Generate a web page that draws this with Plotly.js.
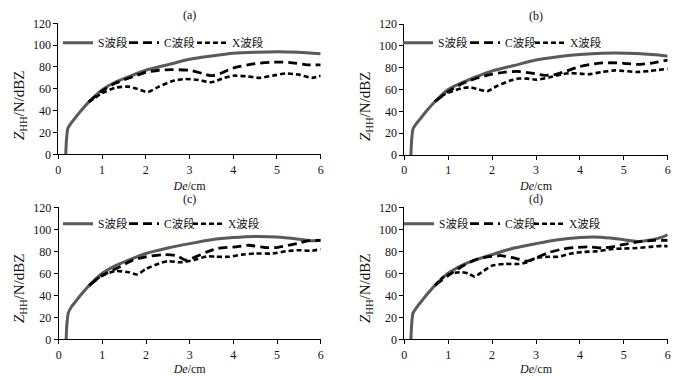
<!DOCTYPE html>
<html>
<head>
<meta charset="utf-8">
<script src="https://cdn.plot.ly/plotly-3.0.1.min.js"></script>
<style>html,body{margin:0;padding:0;background:#fff;}#chart{width:680px;height:376px;}</style>
</head>
<body>
<div id="chart"></div>
<script>
// ---- data ----
const seriesNames = ["S波段", "C波段", "X波段"];
const panelTitles = ["(a)", "(b)", "(c)", "(d)"];
const xTitle = "<i>De</i>/cm";
const yTitle = "<i>Z</i><sub>HH</sub>/N/dBZ";
const xTickVals = [0, 1, 2, 3, 4, 5, 6];
const yTickVals = [0, 20, 40, 60, 80, 100, 120];

// panel (a)
const xa_S = [0.17,0.19,0.22,0.3,0.4,0.5,0.7,1.0,1.3,1.6,2.0,2.5,3.0,3.5,4.0,4.5,5.0,5.5,6.0];
const ya_S = [0,15,24,29,34,39,48,59,66,71,77,82,87,90,92.5,93.5,94,93.5,92];
const xa_C = [0.7,1.0,1.3,1.7,2.0,2.3,2.6,3.0,3.3,3.5,3.7,4.0,4.5,5.0,5.3,5.7,6.0];
const ya_C = [48,58,65,71,75,77,77.5,77,74,72,74,79,83,84.5,84,82,82];
const xa_X = [0.7,0.85,1.0,1.3,1.6,1.8,2.05,2.3,2.6,2.9,3.2,3.5,3.8,4.0,4.3,4.6,4.9,5.2,5.5,5.8,6.0];
const ya_X = [48,52,56,61,62,60,57,62,67,69,68,66,70,72,71.5,70,72,74,73,70,72];

// panel (b)
const xb_S = [0.15,0.17,0.2,0.3,0.4,0.5,0.7,1.0,1.3,1.6,2.0,2.5,3.0,3.5,4.0,4.5,4.8,5.3,5.8,6.0];
const yb_S = [0,15,24,30,35,40,49,60,66,71,77,82,87,90,92,93.3,93.5,93,91.5,90.5];
const xb_C = [0.7,1.0,1.3,1.7,2.0,2.3,2.6,2.9,3.2,3.4,3.7,4.0,4.4,4.7,5.0,5.3,5.6,6.0];
const yb_C = [49,58,65,71,74,76,76.5,75,73,73.5,77,81,84,84.5,84,83,84,87];
const xb_X = [0.7,0.85,1.0,1.3,1.5,1.7,1.9,2.1,2.4,2.6,2.8,3.0,3.3,3.6,3.8,4.0,4.2,4.5,4.8,5.0,5.3,5.6,6.0];
const yb_X = [49,54,57,61,62,60,58.5,63,68,70,70,69,71,74,75,74.5,74,76,77.5,77,76,77,79];

// panel (c)
const xc_S = [0.17,0.19,0.22,0.3,0.4,0.5,0.7,1.0,1.3,1.6,2.0,2.5,3.0,3.5,4.0,4.5,5.0,5.5,5.8,6.0];
const yc_S = [0,15,24,30,35,40,49,60,67,72,78,83,87,90.5,92.5,93.5,93,91,89.5,90];
const xc_C = [0.7,1.0,1.4,1.7,2.0,2.4,2.7,2.9,3.05,3.4,3.65,4.1,4.35,4.77,5.02,5.48,5.7,6.0];
const yc_C = [49,58,66,72,75,77,76,72,73.6,79.5,82.7,84.2,85.5,83.3,83.6,87.3,89.5,90];
const xc_X = [0.7,0.85,1.0,1.3,1.6,1.8,2.0,2.3,2.5,2.8,3.1,3.4,3.6,3.9,4.2,4.5,4.9,5.2,5.5,5.8,6.0];
const yc_X = [49,54,58,62,61,59,64,69,71,70,72,75.5,75,75,77,78,78,80,81,80.5,82];

// panel (d)
const xd_S = [0.15,0.17,0.2,0.3,0.4,0.5,0.7,1.0,1.3,1.6,2.0,2.5,3.0,3.5,4.0,4.3,4.7,5.0,5.3,5.5,5.8,6.0];
const yd_S = [0,15,24,30,35,40,49,60,67,72,77,83,87,90.5,92.5,93,92,90.5,89,89.5,92,95];
const xd_C = [0.7,1.0,1.3,1.6,1.9,2.2,2.5,2.8,3.0,3.3,3.6,3.9,4.2,4.5,4.8,5.1,5.4,5.7,6.0];
const yd_C = [49,58,66,72,75,76,74,71,74,79,82,83.5,84,83,84.5,87,89,90,90];
const xd_X = [0.7,0.9,1.1,1.3,1.45,1.6,1.8,2.0,2.3,2.6,2.8,3.0,3.3,3.5,3.8,4.1,4.4,4.7,5.0,5.3,5.6,5.9,6.0];
const yd_X = [49,57,60,61,60,57,62,67,68.5,68.5,70,74,75,75,78,79.5,80,82,82.5,83,84,85,84.5];

// ---- build ----
const panels = [
  {S:[xa_S,ya_S], C:[xa_C,ya_C], X:[xa_X,ya_X]},
  {S:[xb_S,yb_S], C:[xb_C,yb_C], X:[xb_X,yb_X]},
  {S:[xc_S,yc_S], C:[xc_C,yc_C], X:[xc_X,yc_X]},
  {S:[xd_S,yd_S], C:[xd_C,yd_C], X:[xd_X,yd_X]}
];
const W = 680, H = 376;
// pixel boxes [x0, x1, yTop, yBottom]
const boxes = [
  [58.3, 320.7, 23.3, 154.3],
  [404.3, 667.7, 24, 155],
  [58.7, 320.7, 207.3, 339.3],
  [404.3, 667.7, 207.3, 339.3]
];
// legend line start (px) for S, C, X in each panel, and legend row centre y (px)
const legendX = [[63, 129, 197], [403, 470, 535], [63, 129, 193], [404, 470, 534]];
const legendY = [42.7, 42.7, 223.7, 223.7];
// y-title centre (px)
const yTitlePos = [[20, 106], [366, 107], [20, 289], [366, 289]];
const styles = {
  S: {color: '#5a5a5a', width: 3, dash: 'solid'},
  C: {color: '#000000', width: 2.8, dash: '9px,5px'},
  X: {color: '#000000', width: 2.6, dash: '5px,3px'}
};
const serif = '"Liberation Serif", "Times New Roman", "Noto Sans CJK SC", serif';
const legFont = '"Liberation Serif", "Noto Sans CJK SC", serif';

const traces = [];
const layout = {
  width: W, height: H,
  margin: {l: 0, r: 0, t: 0, b: 0},
  paper_bgcolor: '#ffffff', plot_bgcolor: '#ffffff',
  font: {family: serif, size: 12, color: '#111'},
  showlegend: true,
  annotations: []
};
let legCount = 0;
panels.forEach((p, i) => {
  const n = i === 0 ? '' : String(i + 1);
  ['S', 'C', 'X'].forEach((k, j) => {
    legCount += 1;
    const legName = legCount === 1 ? 'legend' : 'legend' + legCount;
    traces.push({
      x: p[k][0], y: p[k][1],
      type: 'scatter', mode: 'lines',
      name: seriesNames[j],
      xaxis: 'x' + n, yaxis: 'y' + n,
      legend: legName, showlegend: true,
      line: {color: styles[k].color, width: styles[k].width, dash: styles[k].dash, shape: 'spline', smoothing: 0.6},
      hoverinfo: 'skip'
    });
    layout[legName] = {
      visible: true,
      orientation: 'h', x: (legendX[i][j] - 5) / W, y: 1 - legendY[i] / H,
      xanchor: 'left', yanchor: 'middle',
      bgcolor: 'rgba(0,0,0,0)', borderwidth: 0,
      font: {family: legFont, size: 11.5, color: '#111'},
      itemwidth: 30
    };
  });
  const b = boxes[i];
  const axCommon = {
    showgrid: false, zeroline: false, showline: true, linecolor: '#000', linewidth: 1,
    ticks: 'outside', ticklen: 4, tickcolor: '#000', tickwidth: 1,
    tickfont: {family: serif, size: 12, color: '#111'}, fixedrange: true
  };
  layout['xaxis' + n] = Object.assign({}, axCommon, {
    domain: [b[0] / W, b[1] / W], range: [0, 6], tickvals: xTickVals,
    anchor: 'y' + n,
    title: {text: xTitle, font: {family: serif, size: 12, color: '#111'}, standoff: 5}
  });
  layout['yaxis' + n] = Object.assign({}, axCommon, {
    domain: [1 - b[3] / H, 1 - b[2] / H], range: [0, 120], tickvals: yTickVals,
    anchor: 'x' + n
  });
  layout.annotations.push({
    text: panelTitles[i], xref: 'paper', yref: 'paper',
    x: (b[0] + b[1]) / 2 / W, y: 1 - (b[2] - 8) / H,
    xanchor: 'center', yanchor: 'middle', showarrow: false,
    font: {family: serif, size: 12, color: '#111'}
  });
  layout.annotations.push({
    text: yTitle, xref: 'paper', yref: 'paper', textangle: -90,
    x: yTitlePos[i][0] / W, y: 1 - yTitlePos[i][1] / H,
    xanchor: 'center', yanchor: 'middle', showarrow: false,
    font: {family: serif, size: 15, color: '#111'}
  });
});

Plotly.newPlot('chart', traces, layout, {displayModeBar: false, staticPlot: true});
</script>
</body>
</html>
